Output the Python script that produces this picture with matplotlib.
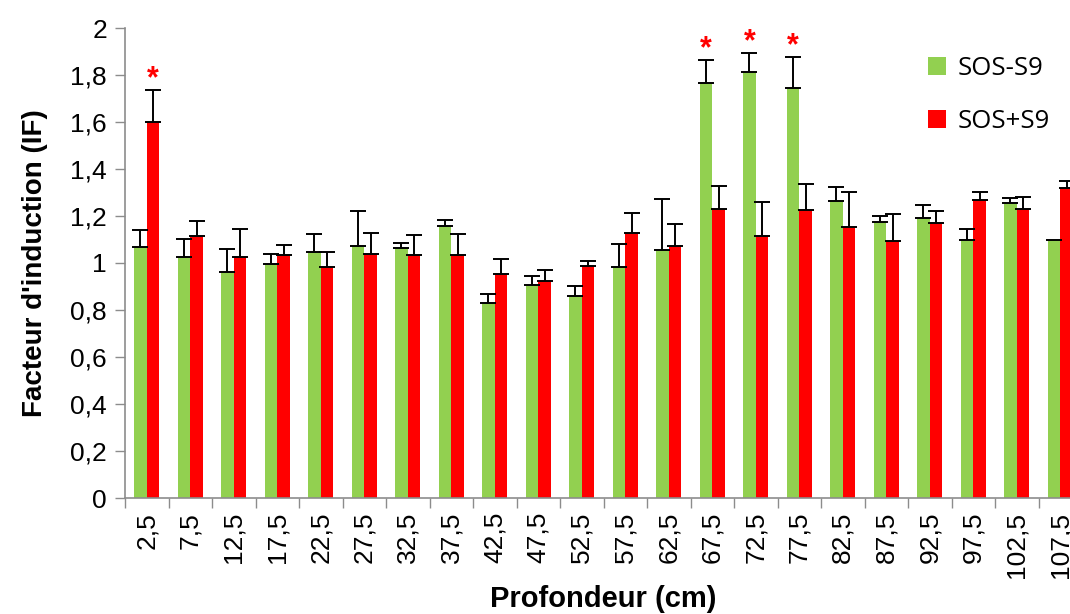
#!/usr/bin/python3

"""Facteur d'induction (SOS chromotest) vs profondeur."""

import matplotlib
matplotlib.use('Agg')
import matplotlib.pyplot as plt
import numpy as np
from matplotlib.ticker import FixedLocator

DEPTHS = ['2,5', '7,5', '12,5', '17,5', '22,5', '27,5', '32,5', '37,5', '42,5',
          '47,5', '52,5', '57,5', '62,5', '67,5', '72,5', '77,5', '82,5', '87,5',
          '92,5', '97,5', '102,5', '107,5']

SOS_MINUS = [1.067, 1.027, 0.963, 0.994, 1.045, 1.072, 1.065, 1.159, 0.831, 0.908,
             0.860, 0.984, 1.055, 1.766, 1.814, 1.743, 1.262, 1.176, 1.191, 1.099,
             1.257, 1.099]
SOS_MINUS_ERR = [0.073, 0.076, 0.097, 0.044, 0.080, 0.151, 0.021, 0.025, 0.037, 0.037,
                 0.041, 0.097, 0.217, 0.096, 0.081, 0.135, 0.060, 0.025, 0.054, 0.047,
                 0.021, 0.0]

SOS_PLUS = [1.600, 1.116, 1.027, 1.033, 0.984, 1.040, 1.033, 1.033, 0.952, 0.925,
            0.989, 1.126, 1.071, 1.230, 1.116, 1.224, 1.153, 1.094, 1.170, 1.268,
            1.230, 1.318]
SOS_PLUS_ERR = [0.136, 0.063, 0.119, 0.042, 0.064, 0.089, 0.087, 0.092, 0.064, 0.047,
                0.021, 0.087, 0.096, 0.098, 0.145, 0.114, 0.151, 0.113, 0.051, 0.036,
                0.052, 0.030]

# (category index, series) marked as significant
STARS = [(0, 'plus'), (13, 'minus'), (14, 'minus'), (15, 'minus')]

GREEN = '#92D050'
RED = '#FF0000'
AXIS_GREY = '#8c8c8c'


def main():
    plt.rcParams['font.family'] = ['Liberation Sans', 'DejaVu Sans']

    fig = plt.figure(figsize=(10.7, 6.14), dpi=100)
    # the plot runs a little past the right edge, like the original crop
    ax = fig.add_axes([125 / 1070, 1 - 498 / 614, 957 / 1070, 470 / 614])

    x = np.arange(len(DEPTHS))
    width = 0.29
    n = len(DEPTHS)

    ax.bar(x - width / 2, SOS_MINUS, width, color=GREEN, label='SOS-S9', zorder=2)
    ax.bar(x + width / 2, SOS_PLUS, width, color=RED, label='SOS+S9', zorder=2)

    err_style = dict(fmt='none', ecolor='black', elinewidth=1.4, capsize=6,
                     capthick=1.4, zorder=3)
    minus_err = [e if e > 0 else np.nan for e in SOS_MINUS_ERR]
    ax.errorbar(x - width / 2, SOS_MINUS, yerr=[[0] * n, minus_err], **err_style)
    ax.errorbar(x + width / 2, SOS_PLUS, yerr=[[0] * n, SOS_PLUS_ERR], **err_style)

    for idx, series in STARS:
        if series == 'plus':
            xs, top = idx + width / 2, SOS_PLUS[idx] + SOS_PLUS_ERR[idx]
        else:
            xs, top = idx - width / 2, SOS_MINUS[idx] + SOS_MINUS_ERR[idx]
        ax.annotate('*', (xs, top), xytext=(0, -3), textcoords='offset points',
                    ha='center', va='bottom', color=RED, fontsize=22,
                    fontweight='bold')

    ax.set_xlim(-0.5, n - 0.5)
    ax.set_ylim(0, 2)

    yticks = np.arange(0, 2.01, 0.2)
    ax.set_yticks(yticks)
    ax.set_yticklabels([f'{v:g}'.replace('.', ',') for v in np.round(yticks, 1)],
                       fontsize=19)
    ax.set_xticks(x)
    ax.set_xticklabels(DEPTHS, rotation=90, fontsize=19)
    ax.xaxis.set_minor_locator(FixedLocator(np.arange(-0.5, n, 1.0)))
    ax.tick_params(axis='x', which='major', length=0, pad=10)
    ax.tick_params(axis='x', which='minor', length=7, color=AXIS_GREY, width=1)
    ax.tick_params(axis='y', length=7, color=AXIS_GREY, width=1, pad=6)

    for side in ['top', 'right']:
        ax.spines[side].set_visible(False)
    for side in ['left', 'bottom']:
        ax.spines[side].set_color(AXIS_GREY)
        ax.spines[side].set_linewidth(1.2)

    ax.set_ylabel("Facteur d'induction (IF)", fontsize=20, fontweight='bold',
                  labelpad=16)
    ax.set_xlabel('Profondeur (cm)', fontsize=21, fontweight='bold', labelpad=5)

    leg = ax.legend(loc='upper left', bbox_to_anchor=(0.815, 0.99), frameon=False,
                    prop={'family': 'Open Sans', 'size': 18.5},
                    handlelength=0.7, handleheight=0.7, handletextpad=0.45,
                    labelspacing=1.1)
    leg.set_zorder(5)

    fig.savefig('out.png', dpi=100)


if __name__ == '__main__':
    main()
